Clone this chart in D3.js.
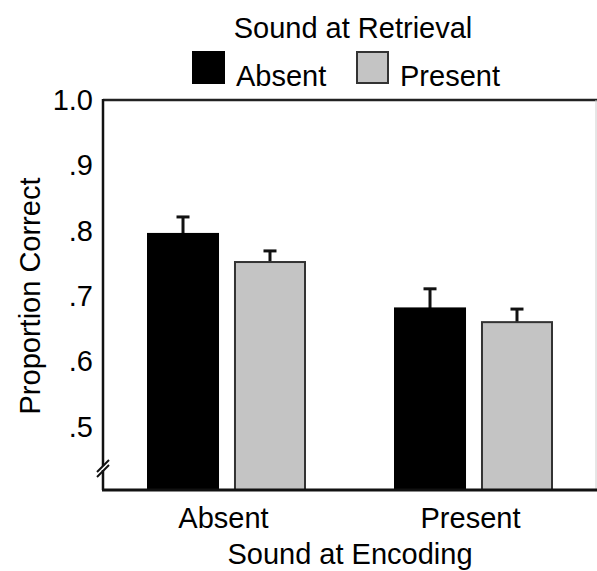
<!DOCTYPE html>
<html><head><meta charset="utf-8">
<script src="https://cdn.jsdelivr.net/npm/d3@7"></script>
<style>body{margin:0;background:#fff}text{font-family:"Liberation Sans",Arial,sans-serif;fill:#000}</style>
</head><body>
<svg id="c" width="597" height="571"></svg>
<script>
const groups = ["Absent", "Present"];          // Sound at Encoding
const series = ["Absent", "Present"];          // Sound at Retrieval
const means = [[0.795, 0.752], [0.681, 0.660]];
const errs  = [[0.026, 0.017], [0.030, 0.020]];
const yTicks = [0.5, 0.6, 0.7, 0.8, 0.9, 1.0];
const tickLabels = [".5", ".6", ".7", ".8", ".9", "1.0"];
const colors = ["#000000", "#c4c4c4"];

const svg = d3.select("#c");
const L = 103, R = 597, T = 100, B = 490;
const y = d3.scaleLinear().domain([0.4, 1.0]).range([492, T]);
const x0 = d3.scaleBand().domain(groups).range([L, R]).padding(0);
const x1 = d3.scaleBand().domain(series).range([0, 157]).paddingInner(0.195);

// frame
svg.append("line").attr("x1", L).attr("x2", R).attr("y1", T).attr("y2", T).attr("stroke", "#222").attr("stroke-width", 2.5);
svg.append("line").attr("x1", R - 1).attr("x2", R - 1).attr("y1", T).attr("y2", B).attr("stroke", "#ccc").attr("stroke-width", 1);

// bars
groups.forEach((g, gi) => {
  const gx = x0(g) + x0.bandwidth() / 2 - 78.5;
  series.forEach((s, si) => {
    const bx = gx + x1(s), bw = x1.bandwidth();
    const v = means[gi][si], e = errs[gi][si];
    const cx = bx + bw / 2;
    svg.append("line").attr("x1", cx).attr("x2", cx).attr("y1", y(v)).attr("y2", y(v + e)).attr("stroke", "#111").attr("stroke-width", 3);
    svg.append("line").attr("x1", cx - 6.5).attr("x2", cx + 6.5).attr("y1", y(v + e)).attr("y2", y(v + e)).attr("stroke", "#111").attr("stroke-width", 3);
    svg.append("rect").attr("x", bx).attr("y", y(v)).attr("width", bw).attr("height", B - y(v))
      .attr("fill", colors[si]).attr("stroke", si === 0 ? "#000" : "#333").attr("stroke-width", 2);
  });
});

// axes lines
svg.append("line").attr("x1", L).attr("x2", L).attr("y1", T - 1).attr("y2", B).attr("stroke", "#111").attr("stroke-width", 2.5);
svg.append("line").attr("x1", L - 1).attr("x2", R).attr("y1", B).attr("y2", B).attr("stroke", "#111").attr("stroke-width", 3);

// break marks
svg.append("rect").attr("x", L - 3).attr("y", 466).attr("width", 6).attr("height", 4).attr("fill", "#fff");
[0, 5].forEach(o => {
  svg.append("line").attr("x1", L - 6).attr("x2", L + 6).attr("y1", 472 + o).attr("y2", 460 + o)
    .attr("stroke", "#111").attr("stroke-width", 2);
});

// y tick labels
svg.selectAll(".yt").data(yTicks).enter().append("text")
  .attr("x", 93).attr("y", d => y(d)).attr("dy", "0.35em").attr("text-anchor", "end")
  .attr("font-size", 29).text((d, i) => tickLabels[i]);

// x category labels
svg.selectAll(".xt").data(groups).enter().append("text")
  .attr("x", d => x0(d) + x0.bandwidth() / 2 - 3).attr("y", 528).attr("text-anchor", "middle")
  .attr("font-size", 29).text(d => d);

svg.append("text").attr("x", 350).attr("y", 564).attr("text-anchor", "middle").attr("font-size", 29).text("Sound at Encoding");
svg.append("text").attr("transform", "translate(40,296) rotate(-90)").attr("text-anchor", "middle").attr("font-size", 29).text("Proportion Correct");

// legend
svg.append("text").attr("x", 353).attr("y", 38).attr("text-anchor", "middle").attr("font-size", 29).text("Sound at Retrieval");
const legX = [193, 357];
series.forEach((s, i) => {
  svg.append("rect").attr("x", legX[i]).attr("y", 52).attr("width", 31).attr("height", 31)
    .attr("fill", colors[i]).attr("stroke", i === 0 ? "#000" : "#333").attr("stroke-width", 2);
  svg.append("text").attr("x", legX[i] + 43).attr("y", 86).attr("font-size", 29).text(s);
});
</script>
</body></html>
